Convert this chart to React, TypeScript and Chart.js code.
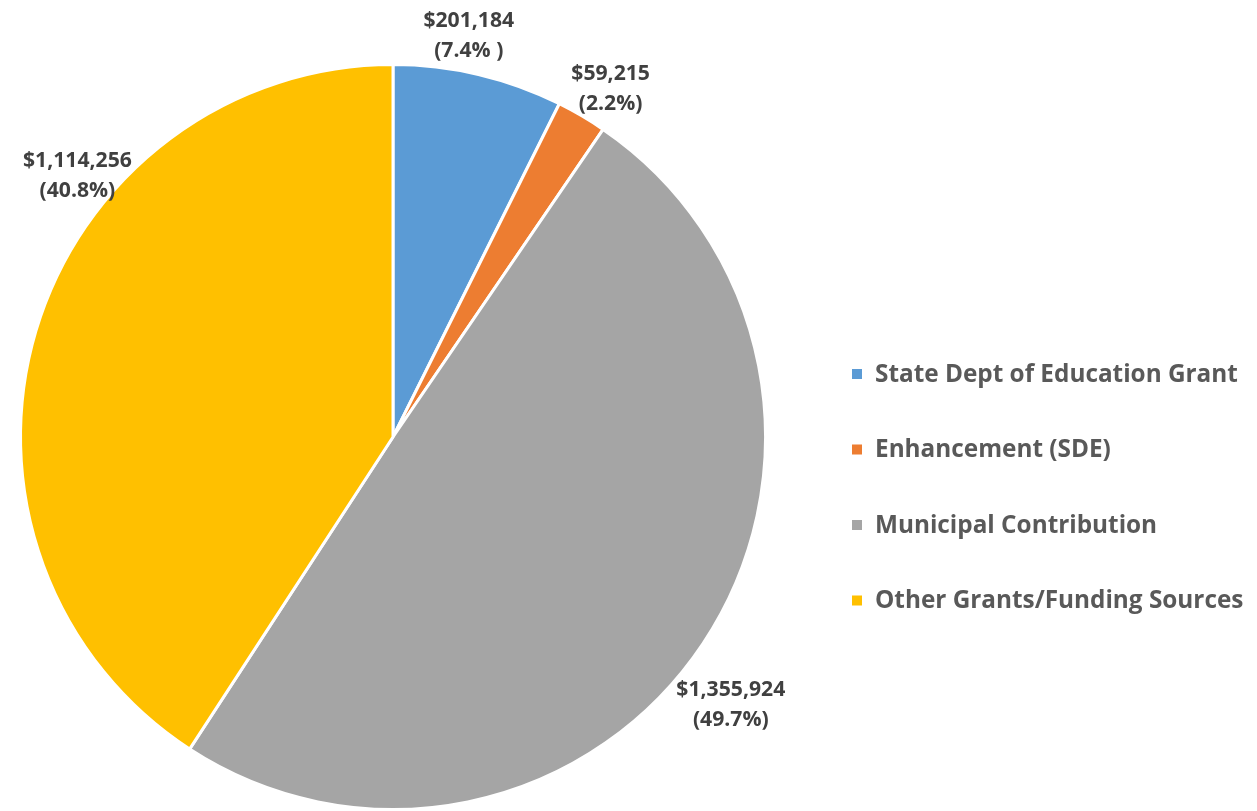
import React, { useEffect, useRef } from "react";
import { Chart, registerables } from "chart.js";

Chart.register(...registerables);

const categories = [
  "State Dept of Education Grant",
  "Enhancement (SDE)",
  "Municipal Contribution",
  "Other Grants/Funding Sources",
];
const amounts = [201184, 59215, 1355924, 1114256];
const percentLabels = ["(7.4% )", "(2.2%)", "(49.7%)", "(40.8%)"];
const colors = ["#5B9BD5", "#ED7D31", "#A5A5A5", "#FFC000"];

const FONT = "'Open Sans', Lato, sans-serif";

// label placement tweaks (angle shift in degrees, extra radius in px)
const labelPlacement = [
  { dAngle: -2.6, extra: 37 },
  { dAngle: 1.5, extra: 39 },
  { dAngle: 4.6, extra: 58 },
  { dAngle: 23.2, extra: 38 },
];

function fitSize(ctx: CanvasRenderingContext2D, text: string, target: number, base: number) {
  ctx.font = `bold ${base}px ${FONT}`;
  const w = ctx.measureText(text).width;
  return (base * target) / w;
}

const labelPlugin = {
  id: "pieLabels",
  afterDatasetsDraw(chart: any) {
    const ctx = chart.ctx;
    const meta = chart.getDatasetMeta(0);
    ctx.save();
    const size = fitSize(ctx, "$1,355,924", 109, 20);
    ctx.font = `bold ${size}px ${FONT}`;
    ctx.fillStyle = "#404040";
    ctx.textAlign = "center";
    ctx.textBaseline = "middle";
    meta.data.forEach((arc: any, i: number) => {
      const { x, y, startAngle, endAngle, outerRadius } = arc.getProps(
        ["x", "y", "startAngle", "endAngle", "outerRadius"],
        true
      );
      const p = labelPlacement[i];
      const mid = (startAngle + endAngle) / 2 + (p.dAngle * Math.PI) / 180;
      const r = outerRadius + p.extra;
      const lx = x + r * Math.cos(mid);
      const ly = y + r * Math.sin(mid);
      ctx.fillText("$" + amounts[i].toLocaleString("en-US"), lx, ly - 14);
      ctx.fillText(percentLabels[i], lx, ly + 16);
    });
    ctx.restore();
  },
};

const legendPlugin = {
  id: "customLegend",
  afterDraw(chart: any) {
    const ctx = chart.ctx;
    ctx.save();
    const size = fitSize(ctx, categories[0], 363, 24);
    ctx.font = `bold ${size}px ${FONT}`;
    ctx.textBaseline = "middle";
    ctx.textAlign = "left";
    const x0 = 852;
    const yStart = 374;
    const step = 75.5;
    categories.forEach((c, i) => {
      const y = yStart + i * step;
      ctx.fillStyle = colors[i];
      ctx.fillRect(x0, y - 5, 10, 10);
      ctx.fillStyle = "#595959";
      ctx.fillText(c, x0 + 23, y + 1);
    });
    ctx.restore();
  },
};

export default function App() {
  const ref = useRef<HTMLCanvasElement>(null);
  useEffect(() => {
    if (!ref.current) return;
    const chart = new Chart(ref.current, {
      type: "pie",
      data: {
        labels: categories,
        datasets: [
          {
            data: amounts,
            backgroundColor: colors,
            borderColor: "#FFFFFF",
            borderWidth: 3,
          },
        ],
      },
      options: {
        animation: false,
        responsive: false,
        maintainAspectRatio: false,
        layout: { padding: { left: 19, right: 490, top: 63, bottom: 0 } },
        plugins: {
          legend: { display: false },
          tooltip: { enabled: false },
        },
      },
      plugins: [labelPlugin, legendPlugin],
    });
    return () => chart.destroy();
  }, []);
  return (
    <div style={{ position: "fixed", left: 0, top: 0, width: 1257, height: 811, background: "#fff" }}>
      <canvas ref={ref} width={1257} height={811} style={{ width: 1257, height: 811 }} />
    </div>
  );
}
